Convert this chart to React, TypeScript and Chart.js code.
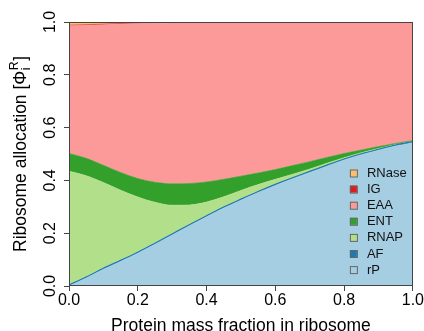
import React, { useEffect, useRef } from "react";
import { Chart, registerables } from "chart.js";

Chart.register(...registerables);

const xs = [0, 0.05, 0.1, 0.15, 0.2, 0.25, 0.3, 0.35, 0.4, 0.45, 0.5, 0.55, 0.6, 0.65, 0.7, 0.75, 0.8, 0.85, 0.9, 0.95, 1.0];
const rP = [0, 0.030, 0.063, 0.093, 0.124, 0.158, 0.193, 0.228, 0.262, 0.295, 0.325, 0.354, 0.381, 0.406, 0.430, 0.454, 0.477, 0.497, 0.514, 0.530, 0.543];
const AF = [0.004, 0.004, 0.004, 0.004, 0.004, 0.004, 0.004, 0.004, 0.004, 0.004, 0.004, 0.004, 0.004, 0.004, 0.004, 0.004, 0.004, 0.004, 0.004, 0.004, 0.004];
const RNAP = [0.431, 0.384, 0.325, 0.266, 0.209, 0.155, 0.109, 0.075, 0.052, 0.039, 0.033, 0.026, 0.019, 0.013, 0.009, 0.007, 0.005, 0.004, 0.003, 0.002, 0.001];
const ENT = [0.067, 0.066, 0.065, 0.067, 0.070, 0.076, 0.081, 0.081, 0.076, 0.066, 0.054, 0.044, 0.037, 0.033, 0.028, 0.022, 0.016, 0.010, 0.007, 0.004, 0.003];
const EAA = [0.484, 0.504, 0.533, 0.562, 0.587, 0.602, 0.609, 0.609, 0.6035, 0.594, 0.582, 0.570, 0.557, 0.542, 0.527, 0.511, 0.496, 0.483, 0.470, 0.458, 0.447];
const IG = [0.002, 0.002, 0.002, 0.002, 0.002, 0.002, 0.002, 0.002, 0.002, 0.002, 0.002, 0.002, 0.002, 0.002, 0.002, 0.002, 0.002, 0.002, 0.002, 0.002, 0.002];
const RNase = [0.012, 0.010, 0.008, 0.006, 0.004, 0.003, 0.002, 0.001, 0.0005, 0, 0, 0, 0, 0, 0, 0, 0, 0, 0, 0, 0];

const seriesNames = ["rP", "AF", "RNAP", "ENT", "EAA", "IG", "RNase"];
const seriesValues = [rP, AF, RNAP, ENT, EAA, IG, RNase];
const seriesColors = ["#a6cee3", "#1f78b4", "#b2df8a", "#33a02c", "#fb9a99", "#e31a1c", "#fdbf6f"];
const tickValues = [0, 0.2, 0.4, 0.6, 0.8, 1.0];

const xTitle = "Protein mass fraction in ribosome";
const yTitleMain = "Ribosome allocation [\u03A6";
const yTitleSup = "R";
const yTitleSub = "i";
const yTitleEnd = "]";

const FONT = "'Liberation Sans', Arial, Helvetica, sans-serif";

const overlay = {
  id: "overlay",
  afterDraw(chart: any) {
    const { ctx, chartArea: a, scales } = chart;
    ctx.save();
    // box
    ctx.strokeStyle = "#444";
    ctx.lineWidth = 1;
    ctx.strokeRect(Math.round(a.left) + 0.5, Math.round(a.top) + 0.5, Math.round(a.right - a.left) - 1, Math.round(a.bottom - a.top) - 1);

    // y tick labels (rotated)
    ctx.fillStyle = "#000";
    ctx.font = `16px ${FONT}`;
    ctx.textAlign = "center";
    ctx.textBaseline = "alphabetic";
    const ys = scales.y;
    ys.ticks.forEach((t: any) => {
      const py = ys.getPixelForValue(t.value);
      ctx.save();
      ctx.translate(a.left - 14, py);
      ctx.rotate(-Math.PI / 2);
      ctx.fillText(Number(t.value).toFixed(1), 0, 0);
      ctx.restore();
    });

    // legend
    const n = seriesNames.length;
    ctx.font = `13px ${FONT}`;
    ctx.textAlign = "left";
    ctx.textBaseline = "middle";
    for (let i = 0; i < n; i++) {
      const idx = n - 1 - i;
      const cy = a.top + 151 + i * 16.1;
      const bx = a.right - 63;
      ctx.fillStyle = seriesColors[idx];
      ctx.fillRect(bx, cy - 3.5, 7, 7);
      ctx.strokeStyle = "#666";
      ctx.lineWidth = 1;
      ctx.strokeRect(bx + 0.5, cy - 3.5 + 0.5, 7, 7);
      ctx.fillStyle = "#111";
      ctx.fillText(seriesNames[idx], a.right - 46, cy + 0.5);
    }

    // x title
    ctx.font = `17.5px ${FONT}`;
    ctx.textAlign = "center";
    ctx.textBaseline = "alphabetic";
    ctx.fillStyle = "#000";
    ctx.fillText(xTitle, (a.left + a.right) / 2, 331);

    // y title
    const fs = 17.5;
    const sfs = fs * 0.7;
    ctx.save();
    ctx.translate(26, (a.top + a.bottom) / 2);
    ctx.rotate(-Math.PI / 2);
    ctx.textAlign = "left";
    ctx.font = `${fs}px ${FONT}`;
    const w1 = ctx.measureText(yTitleMain).width;
    const w4 = ctx.measureText(yTitleEnd).width;
    ctx.font = `${sfs}px ${FONT}`;
    const w2 = Math.max(ctx.measureText(yTitleSup).width, ctx.measureText(yTitleSub).width);
    const total = w1 + w2 + 1 + w4;
    let x0 = -total / 2;
    ctx.font = `${fs}px ${FONT}`;
    ctx.fillText(yTitleMain, x0, 0);
    ctx.font = `${sfs}px ${FONT}`;
    ctx.fillText(yTitleSup, x0 + w1 + 0.5, -fs * 0.45);
    ctx.fillText(yTitleSub, x0 + w1 + 0.5, fs * 0.22);
    ctx.font = `${fs}px ${FONT}`;
    ctx.fillText(yTitleEnd, x0 + w1 + w2 + 1, 0);
    ctx.restore();

    ctx.restore();
  },
};

export default function App() {
  const ref = useRef<HTMLCanvasElement | null>(null);
  useEffect(() => {
    if (!ref.current) return;
    const datasets = seriesNames.map((name, i) => ({
      label: name,
      data: xs.map((x, j) => ({ x, y: seriesValues[i][j] })),
      backgroundColor: seriesColors[i],
      borderColor: seriesColors[i],
      borderWidth: name === "AF" ? 1.2 : 0.6,
      fill: i === 0 ? "origin" : "-1",
      pointRadius: 0,
      cubicInterpolationMode: "monotone" as const,
    }));
    const chart = new Chart(ref.current, {
      type: "line",
      data: { datasets },
      options: {
        responsive: false,
        animation: false,
        events: [],
        layout: { padding: { top: 22, right: 10, left: 0, bottom: 0 } },
        plugins: { legend: { display: false }, tooltip: { enabled: false }, title: { display: false } },
        scales: {
          x: {
            type: "linear",
            min: 0,
            max: 1,
            afterBuildTicks: (s: any) => { s.ticks = tickValues.map((v) => ({ value: v })); },
            afterFit: (s: any) => { s.height = 45; },
            grid: { display: true, drawOnChartArea: false, drawTicks: true, tickLength: 5, color: "#444" },
            border: { display: false },
            ticks: {
              color: "#000",
              font: { family: FONT, size: 16 },
              padding: 0,
              maxRotation: 0,
              autoSkip: false,
              callback: (v: any) => Number(v).toFixed(1),
            },
          },
          y: {
            type: "linear",
            stacked: true,
            min: 0,
            max: 1,
            afterBuildTicks: (s: any) => { s.ticks = tickValues.map((v) => ({ value: v })); },
            afterFit: (s: any) => { s.width = 69; },
            grid: { display: true, drawOnChartArea: false, drawTicks: true, tickLength: 5, color: "#444" },
            border: { display: false },
            ticks: { display: false },
          },
        },
      },
      plugins: [overlay],
    });
    return () => chart.destroy();
  }, []);
  return (
    <div style={{ position: "fixed", left: 0, top: 0, width: 424, height: 331, background: "#fff" }}>
      <canvas ref={ref} width={424} height={331} style={{ width: 424, height: 331, display: "block" }} />
    </div>
  );
}
